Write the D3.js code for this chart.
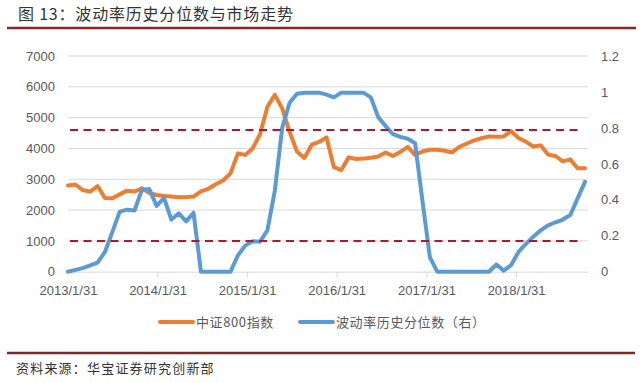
<!DOCTYPE html>
<html><head><meta charset="utf-8">
<script src="https://cdn.jsdelivr.net/npm/d3@7"></script>
<style>body{margin:0;background:#fff}</style>
</head><body><svg id="c" width="643" height="383"></svg>
<script>
// ---- data ----
const csi800 = [2800,2830,2650,2600,2780,2390,2385,2510,2630,2600,
  2710,2560,2490,2460,2440,2415,2420,2440,2610,2690,
  2840,2960,3190,3840,3790,4000,4460,5350,5740,5300,
  4540,3900,3690,4120,4210,4360,3390,3300,3710,3660,
  3670,3700,3740,3870,3755,3890,4050,3790,3900,3960,
  3960,3927,3870,4050,4160,4260,4330,4390,4380,4390,
  4560,4340,4220,4060,4100,3800,3755,3580,3645,3360,3360];
const volPct = [0,0.01,0.02,0.035,0.05,0.11,0.22,0.334,0.345,0.34,
  0.455,0.46,0.366,0.41,0.29,0.325,0.28,0.328,0,0,
  0,0,0,0.09,0.145,0.17,0.167,0.23,0.45,0.8,
  0.94,0.99,0.996,0.996,0.996,0.985,0.97,0.996,0.996,0.996,
  0.996,0.97,0.86,0.81,0.765,0.75,0.74,0.715,0.39,0.08,
  0,0,0,0,0,0,0,0,0.04,0.006,
  0.037,0.11,0.155,0.195,0.23,0.258,0.275,0.29,0.315,0.408,0.5];
const leftTicks = [0,1000,2000,3000,4000,5000,6000,7000];
const rightTicks = [0,0.2,0.4,0.6,0.8,1,1.2];
const xTickLabels = ["2013/1/31","2014/1/31","2015/1/31","2016/1/31","2017/1/31","2018/1/31"];
const startDate = "2013-01-31", endDate = "2018-11-08";
const refLines = [4600, 1000];
const seriesNames = ["中证800指数", "波动率历史分位数（右）"];
const title = "图 13：波动率历史分位数与市场走势";
const source = "资料来源：华宝证券研究创新部";

// ---- chart ----
const svg = d3.select("#c");
const L = 68, R = 585, GR = 588, T = 56, B = 271.7;
const orange = "#ED7D31", blue = "#5B9BD5", grid = "#d9d9d9", txt = "#595959";
const parse = d3.utcParse("%Y-%m-%d");
const xIdx = d3.scaleLinear().domain([0, csi800.length - 1]).range([L, R]);
const xTime = d3.scaleUtc().domain([parse(startDate), parse(endDate)]).range([L, R]);
const yL = d3.scaleLinear().domain([0, 7000]).range([B, T]);
const yR = d3.scaleLinear().domain([0, 1.2]).range([B, T]);
const font = "'Liberation Sans', Arial, sans-serif";
const cjk = "'Noto Sans CJK SC', sans-serif";

svg.append("rect").attr("width", 643).attr("height", 383).attr("fill", "#fff");

// title
svg.append("text").attr("x", 18).attr("y", 20).attr("font-family", cjk)
  .attr("font-size", 16).attr("letter-spacing", 0.8).attr("fill", "#333").text(title);
svg.append("line").attr("x1", 7).attr("x2", 636).attr("y1", 28).attr("y2", 28)
  .attr("stroke", "#8B2525").attr("stroke-width", 2.5);

// gridlines
svg.append("g").selectAll("line").data(leftTicks.filter(d => d > 0)).join("line")
  .attr("x1", L).attr("x2", GR).attr("y1", d => yL(d)).attr("y2", d => yL(d))
  .attr("stroke", grid).attr("stroke-width", 1);

// x axis
const xAxis = d3.axisBottom(xTime)
  .tickValues(xTickLabels.map(s => d3.utcParse("%Y/%m/%d")(s)))
  .tickFormat((d, i) => xTickLabels[i]).tickSizeInner(6).tickSizeOuter(0).tickPadding(8);
const gx = svg.append("g").attr("transform", `translate(0,${B})`).call(xAxis);
gx.select(".domain").attr("d", `M${L},0.5H${GR}`).attr("stroke", grid);
gx.selectAll(".tick line").attr("stroke", grid);
gx.selectAll(".tick").filter((d, i) => i === 0).select("line").remove();
gx.selectAll("text").attr("font-family", font).attr("font-size", 13).attr("fill", txt);

// left axis
const gl = svg.append("g").attr("transform", `translate(${L},0)`)
  .call(d3.axisLeft(yL).tickValues(leftTicks).tickFormat(d3.format("d")).tickSize(0).tickPadding(13));
gl.select(".domain").remove();
gl.selectAll("text").attr("font-family", font).attr("font-size", 13).attr("fill", txt);

// right axis
const gr = svg.append("g").attr("transform", `translate(${GR},0)`)
  .call(d3.axisRight(yR).tickValues(rightTicks).tickFormat(d => String(d)).tickSize(0).tickPadding(13));
gr.select(".domain").remove();
gr.selectAll("text").attr("font-family", font).attr("font-size", 13).attr("fill", txt);

// lines
const lineL = d3.line().x((d, i) => xIdx(i)).y(d => yL(d));
const lineR = d3.line().x((d, i) => xIdx(i)).y(d => yR(d));
svg.append("path").datum(csi800).attr("d", lineL).attr("fill", "none")
  .attr("stroke", orange).attr("stroke-width", 4).attr("stroke-linejoin", "round").attr("stroke-linecap", "round");
svg.append("path").datum(volPct).attr("d", lineR).attr("fill", "none")
  .attr("stroke", blue).attr("stroke-width", 4).attr("stroke-linejoin", "round").attr("stroke-linecap", "round");

// reference dashed lines
svg.append("g").selectAll("line").data(refLines).join("line")
  .attr("x1", L + 2).attr("x2", R - 2).attr("y1", d => yL(d)).attr("y2", d => yL(d))
  .attr("stroke", "#B8132A").attr("stroke-width", 2).attr("stroke-dasharray", "8,5.5");

// legend
const leg = svg.append("g");
const legY = 322;
const legItems = [{x: 160, c: orange, t: seriesNames[0]}, {x: 300, c: blue, t: seriesNames[1]}];
legItems.forEach(it => {
  leg.append("line").attr("x1", it.x).attr("x2", it.x + 33).attr("y1", legY).attr("y2", legY)
    .attr("stroke", it.c).attr("stroke-width", 4).attr("stroke-linecap", "round");
  leg.append("text").attr("x", it.x + 36).attr("y", legY + 4.5).attr("font-family", cjk)
    .attr("font-size", 13).attr("letter-spacing", 0.6).attr("fill", txt).text(it.t);
});

// bottom rule + source
svg.append("line").attr("x1", 7).attr("x2", 635).attr("y1", 353).attr("y2", 353)
  .attr("stroke", "#7A2A2A").attr("stroke-width", 2.5);
svg.append("text").attr("x", 16).attr("y", 372.5).attr("font-family", cjk)
  .attr("font-size", 13).attr("letter-spacing", 1.2).attr("fill", "#333").text(source);
</script>
</body></html>
